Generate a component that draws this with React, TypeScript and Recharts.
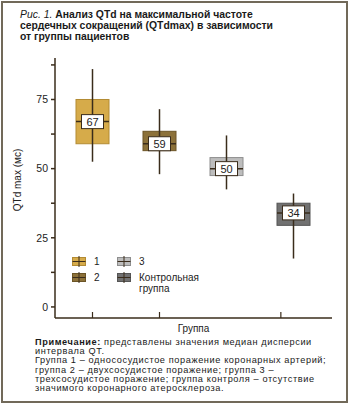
import React from "react";
import { ComposedChart, Bar, XAxis, YAxis } from "recharts";

const groups = ["1", "2", "3", "Контрольная группа"];
const q1 = [59, 56.5, 47.5, 29.5];
const q3 = [75, 63.5, 54, 37.5];
const medians = [67, 59, 50, 34];
const mins = [52.5, 48, 42.5, 17.5];
const maxs = [86, 71.5, 62, 41];
const yTicks = [0, 12.5, 25, 37.5, 50, 62.5, 75, 87.5];

const fills = ["#D6AB4A", "#8C7139", "#BDBDBD", "#717171"];
const strokes = ["#B38B33", "#6C5526", "#8E8E8E", "#555555"];
const DARK = "#3A2C1B";
const FONT = "'Liberation Sans', Arial, sans-serif";

const data = groups.map((g, i) => ({
  group: g,
  box: [q1[i], q3[i]],
  lo: q1[i],
  hi: q3[i],
  med: medians[i],
  min: mins[i],
  max: maxs[i],
  idx: i,
}));

function BoxShape(props: any) {
  const { x, y, width, height, payload } = props;
  const top = Math.min(y, y + height);
  const h = Math.abs(height);
  const ppu = h / (payload.hi - payload.lo);
  const cx = x + width / 2;
  const medY = top + (payload.hi - payload.med) * ppu;
  const wTop = top - (payload.max - payload.hi) * ppu;
  const wBot = top + h + (payload.lo - payload.min) * ppu;
  const i = payload.idx;
  return (
    <g>
      <rect x={x} y={top} width={width} height={h} fill={fills[i]} stroke={strokes[i]} strokeWidth={1} />
      <line x1={cx} x2={cx} y1={wTop} y2={wBot} stroke={DARK} strokeWidth={1.5} />
      <line x1={x} x2={x + width} y1={medY} y2={medY} stroke={DARK} strokeWidth={1.5} />
      <rect x={cx - 11} y={medY - 7} width={22} height={14} fill="#fff" stroke={DARK} strokeWidth={1} />
      <text x={cx} y={medY + 4} textAnchor="middle" fontSize={11} fontFamily={FONT} fill="#222">
        {payload.med}
      </text>
    </g>
  );
}

function XTick(props: any) {
  const { x, y } = props;
  return <line x1={x} x2={x} y1={y} y2={y - 6} stroke={DARK} strokeWidth={1.2} />;
}

function YLabel(props: any) {
  const vb = props.viewBox;
  const lx = vb.x + 21;
  const ly = vb.y + vb.height / 2 - 8;
  return (
    <text x={lx} y={ly} transform={`rotate(-90, ${lx}, ${ly})`} textAnchor="middle" fontSize={10} fontFamily={FONT} fill="#222">
      QTd max (мс)
    </text>
  );
}

function Swatch({ i }: { i: number }) {
  return (
    <svg width={14} height={11} style={{ display: "block" }}>
      <rect x={0.5} y={1.5} width={13} height={8} fill={fills[i]} stroke={strokes[i]} />
      <line x1={0.5} x2={13.5} y1={5.5} y2={5.5} stroke={DARK} strokeWidth={1} />
      <line x1={7} x2={7} y1={0} y2={11} stroke={DARK} strokeWidth={1} />
    </svg>
  );
}

function LegendItem({ i, left, top }: { i: number; left: number; top: number }) {
  const parts = groups[i].split(" ");
  return (
    <div style={{ position: "absolute", left, top, display: "flex", alignItems: "flex-start" }}>
      <Swatch i={i} />
      <div style={{ marginLeft: 8, fontSize: 10, lineHeight: "11px", color: "#222" }}>
        {parts.map((p, k) => (
          <div key={k}>{p}</div>
        ))}
      </div>
    </div>
  );
}

export default function App() {
  return (
    <div style={{ position: "relative", width: 350, height: 406, background: "#fff", fontFamily: FONT, overflow: "hidden" }}>
      <style>{`body{margin:0}`}</style>
      <div
        style={{
          position: "absolute",
          left: 1,
          top: 1,
          width: 347,
          height: 402,
          border: "2px solid #716959",
          boxSizing: "border-box",
        }}
      />
      <div style={{ position: "absolute", left: 20, top: 9, fontSize: 10.4, lineHeight: "11px", fontWeight: "bold", color: "#1a1a1a", whiteSpace: "nowrap" }}>
        <span style={{ fontStyle: "italic", fontWeight: "normal" }}>Рис. 1.</span> Анализ QTd на максимальной частоте
        <br />
        сердечных сокращений (QTdmax) в зависимости
        <br />
        от группы пациентов
      </div>
      <div style={{ position: "absolute", left: 0, top: 0 }}>
        <ComposedChart width={350} height={406} data={data} margin={{ top: 58, right: 18, bottom: 68, left: 0 }}>
          <XAxis
            dataKey="group"
            type="category"
            padding={{ left: 4, right: 5 }}
            height={20}
            stroke={DARK}
            strokeWidth={1.5}
            tickLine={false}
            tickSize={0}
            tickMargin={0}
            tick={<XTick />}
            label={{ value: "Группа", position: "insideTop", offset: 7, fontSize: 10, fill: "#222", fontFamily: FONT }}
          />
          <YAxis
            type="number"
            domain={[-4, 90]}
            ticks={yTicks}
            allowDataOverflow
            width={55}
            stroke={DARK}
            strokeWidth={1.5}
            tickSize={4}
            tickMargin={3}
            tick={{ fontSize: 10.5, fill: "#222", fontFamily: FONT }}
            tickFormatter={(v: number) => (v % 25 === 0 ? String(v) : "")}
            label={<YLabel />}
          />
          <Bar dataKey="box" barSize={33} shape={<BoxShape />} isAnimationActive={false} />
        </ComposedChart>
      </div>
      <LegendItem i={0} left={72} top={256} />
      <LegendItem i={1} left={72} top={272} />
      <LegendItem i={2} left={117} top={256} />
      <LegendItem i={3} left={117} top={272} />
      <div
        style={{
          position: "absolute",
          left: 35,
          top: 338,
          width: 310,
          fontSize: 9.2,
          lineHeight: "9.2px",
          letterSpacing: 0.6,
          color: "#1a1a1a",
          whiteSpace: "nowrap",
        }}
      >
        <b>Примечание:</b> представлены значения медиан дисперсии
        <br />
        интервала QT.
        <br />
        Группа 1 – однососудистое поражение коронарных артерий;
        <br />
        группа 2 – двухсосудистое поражение; группа 3 –
        <br />
        трехсосудистое поражение; группа контроля – отсутствие
        <br />
        значимого коронарного атеросклероза.
      </div>
    </div>
  );
}
